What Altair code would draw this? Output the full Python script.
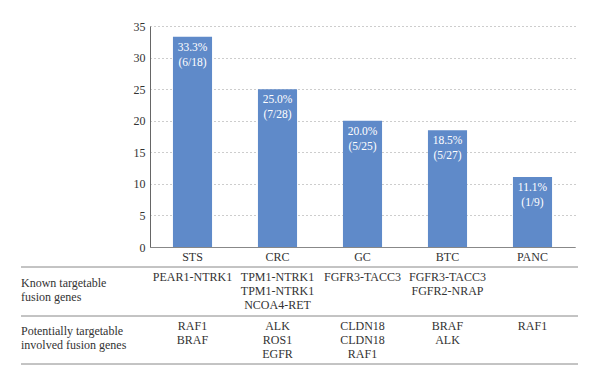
import altair as alt
import pandas as pd

categories = ["STS", "CRC", "GC", "BTC", "PANC"]
percent_values = [33.3, 25.0, 20.0, 18.5, 11.1]
fractions = ["(6/18)", "(7/28)", "(5/25)", "(5/27)", "(1/9)"]
known_genes = [
    ["PEAR1-NTRK1"],
    ["TPM1-NTRK1", "TPM1-NTRK1", "NCOA4-RET"],
    ["FGFR3-TACC3"],
    ["FGFR3-TACC3", "FGFR2-NRAP"],
    [],
]
potential_genes = [
    ["RAF1", "BRAF"],
    ["ALK", "ROS1", "EGFR"],
    ["CLDN18", "CLDN18", "RAF1"],
    ["BRAF", "ALK"],
    ["RAF1"],
]
row_labels = ["Known targetable\nfusion genes", "Potentially targetable\ninvolved fusion genes"]
y_ticks = [0, 5, 10, 15, 20, 25, 30, 35]

FONT = "'Liberation Serif', 'Times New Roman', serif"
TXT = "#333333"
W, H = 425, 221

df = pd.DataFrame({
    "cat": categories,
    "val": percent_values,
    "label": [f"{v:.1f}%\n{f}" for v, f in zip(percent_values, fractions)],
    "known": ["\n".join(g) for g in known_genes],
    "potential": ["\n".join(g) for g in potential_genes],
})

x_enc = alt.X("cat:N", sort=categories, title=None,
              scale=alt.Scale(paddingInner=0.54, paddingOuter=0.27),
              axis=alt.Axis(labelAngle=0, ticks=False, labelPadding=4,
                            labelFont=FONT, labelFontSize=12, labelColor=TXT,
                            domainColor="#888888", grid=False))
y_enc = alt.Y("val:Q", title=None,
              scale=alt.Scale(domain=[0, 35], nice=False),
              axis=alt.Axis(values=y_ticks, ticks=False, labelPadding=5,
                            labelOverlap=False,
                            labelFont=FONT, labelFontSize=12, labelColor=TXT,
                            domainColor="#666666", grid=True, gridDash=[1, 3],
                            gridColor="#9a9a9a", gridWidth=1))

base = alt.Chart(df)

bars = base.mark_bar(color="#5f8ac9").encode(x=x_enc, y=y_enc)

bar_text = base.mark_text(color="white", font=FONT, fontSize=11.5, baseline="top",
                          lineBreak="\n", lineHeight=15, dy=5).encode(
    x=x_enc, y=y_enc, text="label:N")

known_text = base.mark_text(color=TXT, font=FONT, fontSize=12, baseline="top",
                            lineBreak="\n", lineHeight=14).encode(
    x=x_enc, y=alt.value(245.5), text="known:N")

potential_text = base.mark_text(color=TXT, font=FONT, fontSize=12, baseline="top",
                                lineBreak="\n", lineHeight=14).encode(
    x=x_enc, y=alt.value(294.5), text="potential:N")

lbl_df = pd.DataFrame({"t": row_labels})
lbl1 = alt.Chart(lbl_df.iloc[[0]]).mark_text(
    color=TXT, font=FONT, fontSize=12, baseline="top", align="left",
    lineBreak="\n", lineHeight=14).encode(
    x=alt.value(-129), y=alt.value(251.5), text="t:N")
lbl2 = alt.Chart(lbl_df.iloc[[1]]).mark_text(
    color=TXT, font=FONT, fontSize=12, baseline="top", align="left",
    lineBreak="\n", lineHeight=14).encode(
    x=alt.value(-129), y=alt.value(299.5), text="t:N")

one = pd.DataFrame({"k": [0]})
rules = [
    alt.Chart(one).mark_rule(color="#888888", strokeWidth=1).encode(
        x=alt.value(-129), x2=alt.value(W + 3), y=alt.value(yy))
    for yy in (241, 290, 338)
]

chart = alt.layer(bars, bar_text, known_text, potential_text, lbl1, lbl2, *rules).properties(
    width=W, height=H,
    autosize=alt.AutoSizeParams(type="none"),
    padding={"left": 142, "top": 18, "right": 17, "bottom": 120},
).configure_view(stroke=None)

chart.save("out.html", embed_options={"renderer": "svg", "actions": False})
